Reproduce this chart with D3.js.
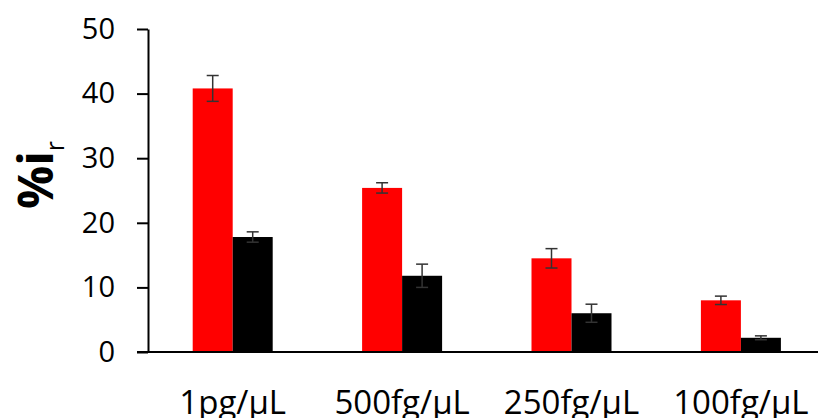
<!DOCTYPE html>
<html lang="en">
  <head>
    <meta charset="utf-8">
    <title>%ir bars</title>
    <script src="https://d3js.org/d3.v7.min.js"></script>
    <style>
      body { margin: 0; background: #fff; }
      text { font-family: "Open Sans", "Liberation Sans", sans-serif; }
    </style>
  </head>
  <body>
    <script>
      // values
      var categories = ["1pg/\u00b5L", "500fg/\u00b5L", "250fg/\u00b5L", "100fg/\u00b5L"];
      var redValues = [40.8, 25.4, 14.5, 8.0];
      var redErr = [2.0, 0.8, 1.5, 0.65];
      var blackValues = [17.8, 11.8, 6.0, 2.2];
      var blackErr = [0.8, 1.8, 1.4, 0.3];
      var yTicks = [0, 10, 20, 30, 40, 50];

      var W = 818, H = 418;

      var svg = d3.select("body").append("svg")
                  .attr("width", W)
                  .attr("height", H);

      var x = d3.scaleBand().domain(categories).range([148, 825.6]);
      var y = d3.scaleLinear().domain([0, 50]).range([352, 29]);
      var bw = x.bandwidth();
      var x1 = d3.scaleBand().domain(["red", "black"]).range([bw / 2 - 40, bw / 2 + 40]);

      // build rows for each series
      var rows = [];
      categories.forEach(function(c, i) {
        rows.push({cat: c, s: "red", v: redValues[i], e: redErr[i]});
        rows.push({cat: c, s: "black", v: blackValues[i], e: blackErr[i]});
      });

      svg.selectAll("rect.bar")
         .data(rows)
         .enter().append("rect")
         .attr("class", "bar")
         .attr("x", function(d) { return x(d.cat) + x1(d.s); })
         .attr("width", x1.bandwidth())
         .attr("y", function(d) { return y(d.v); })
         .attr("height", function(d) { return y(0) - y(d.v); })
         .style("fill", function(d) { return d.s == "red" ? "#ff0000" : "#000000"; });

      // error bars
      var eb = svg.selectAll("g.err")
                  .data(rows)
                  .enter().append("g")
                  .attr("class", "err")
                  .attr("stroke", "#333")
                  .attr("stroke-width", 1.5);
      var cx = function(d) { return x(d.cat) + x1(d.s) + x1.bandwidth() / 2; };
      eb.append("line")
        .attr("x1", cx).attr("x2", cx)
        .attr("y1", function(d) { return y(d.v + d.e); })
        .attr("y2", function(d) { return y(d.v - d.e); });
      eb.append("line")
        .attr("x1", function(d) { return cx(d) - 6; })
        .attr("x2", function(d) { return cx(d) + 6; })
        .attr("y1", function(d) { return y(d.v + d.e); })
        .attr("y2", function(d) { return y(d.v + d.e); });
      eb.append("line")
        .attr("x1", function(d) { return cx(d) - 6; })
        .attr("x2", function(d) { return cx(d) + 6; })
        .attr("y1", function(d) { return y(d.v - d.e); })
        .attr("y2", function(d) { return y(d.v - d.e); });

      // y axis
      var yAxis = svg.append("g")
         .attr("transform", "translate(148,0)")
         .call(d3.axisLeft(y).tickValues(yTicks).tickSize(11).tickSizeOuter(0).tickPadding(22));
      yAxis.selectAll("path, line").attr("stroke", "#000").attr("stroke-width", 2);
      yAxis.selectAll("text")
           .style("font-size", "29px")
           .attr("fill", "#000");

      // x axis line and labels
      svg.append("line")
         .attr("x1", 137).attr("x2", W)
         .attr("y1", y(0)).attr("y2", y(0))
         .attr("stroke", "#000").attr("stroke-width", 2);

      svg.selectAll("text.cat")
         .data(categories)
         .enter().append("text")
         .attr("class", "cat")
         .attr("x", function(d) { return x(d) + bw / 2; })
         .attr("y", 414)
         .attr("text-anchor", "middle")
         .style("font-size", "33px")
         .attr("fill", "#000")
         .text(function(d) { return d; });

      // y label: %i with subscript r
      var lab = svg.append("text")
         .attr("transform", "translate(53,175) rotate(-90)")
         .attr("text-anchor", "middle")
         .attr("fill", "#000");
      lab.append("tspan")
         .style("font-size", "48px")
         .style("font-weight", "bold")
         .text("%i");
      lab.append("tspan")
         .attr("dy", 11)
         .style("font-size", "25px")
         .text("r");
    </script>
  </body>
</html>
